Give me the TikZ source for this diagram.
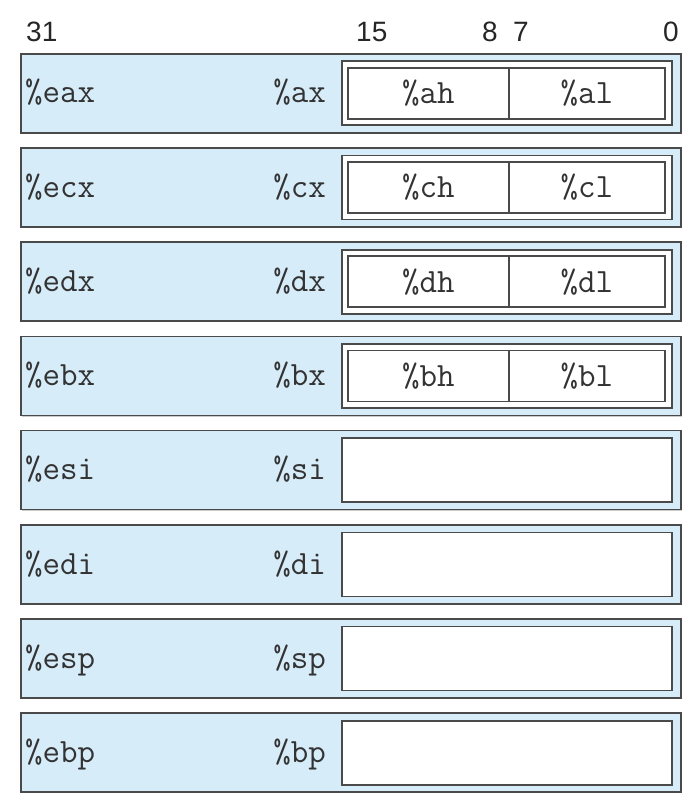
\documentclass[tikz,border=0pt]{standalone}
\usepackage{fontspec}
\newfontfamily\numfont{Liberation Sans}
\usetikzlibrary{shadows}
\definecolor{regblue}{HTML}{D6ECF9}
\definecolor{regline}{HTML}{4A4A4A}
\begin{document}
\begin{tikzpicture}[x=1pt,y=-1pt,
  regbox/.style={draw=regline, line width=1.6pt, fill=regblue, minimum width=660pt, minimum height=79pt, inner sep=0pt, anchor=north west,
    drop shadow={shadow xshift=1.2pt, shadow yshift=-1.2pt, opacity=0.35, fill=black!60}},
  wbox/.style={draw=regline, line width=1.6pt, fill=white, minimum width=330pt, minimum height=64pt, inner sep=0pt, anchor=north west},
  hbox/.style={draw=regline, line width=1.6pt, fill=white, minimum height=51pt, inner sep=0pt, anchor=north west, font=\fontsize{34}{38}\ttfamily, text=black!80},
  reglabel/.style={inner sep=0pt, font=\fontsize{34}{38}\ttfamily, text=black!80},
  bitlabel/.style={inner sep=0pt, font=\fontsize{28}{32}\numfont, text=black!85}
]
\useasboundingbox (0,0) rectangle (688,802);
\node[bitlabel, anchor=base west] (b31) at (26,42) {31};
\node[bitlabel, anchor=base west] (b15) at (356,42) {15};
\node[bitlabel, anchor=base east] (b8) at (498,42) {8};
\node[bitlabel, anchor=base west] (b7) at (513,42) {7};
\node[bitlabel, anchor=base east] (b0) at (679,42) {0};
\foreach \i/\e/\x in {0/eax/ax,1/ecx/cx,2/edx/dx,3/ebx/bx,4/esi/si,5/edi/di,6/esp/sp,7/ebp/bp}{
  \pgfmathsetmacro\t{53+94.2*\i}
  \node[regbox] (r\i) at (20,\t) {};
  \node[reglabel, anchor=base west] (e\i) at (25,\t+50) {\%\e};
  \node[reglabel, anchor=base east] (x\i) at (326,\t+50) {\%\x};
  \node[wbox] (w\i) at (341,\t+7.5) {};
}
\foreach \i/\h/\l in {0/ah/al,1/ch/cl,2/dh/dl,3/bh/bl}{
  \pgfmathsetmacro\t{53+94.2*\i}
  \node[hbox, minimum width=161pt] (h\i) at (347,\t+14) {\%\h};
  \node[hbox, minimum width=156pt] (l\i) at (508,\t+14) {\%\l};
}
\end{tikzpicture}
\end{document}
